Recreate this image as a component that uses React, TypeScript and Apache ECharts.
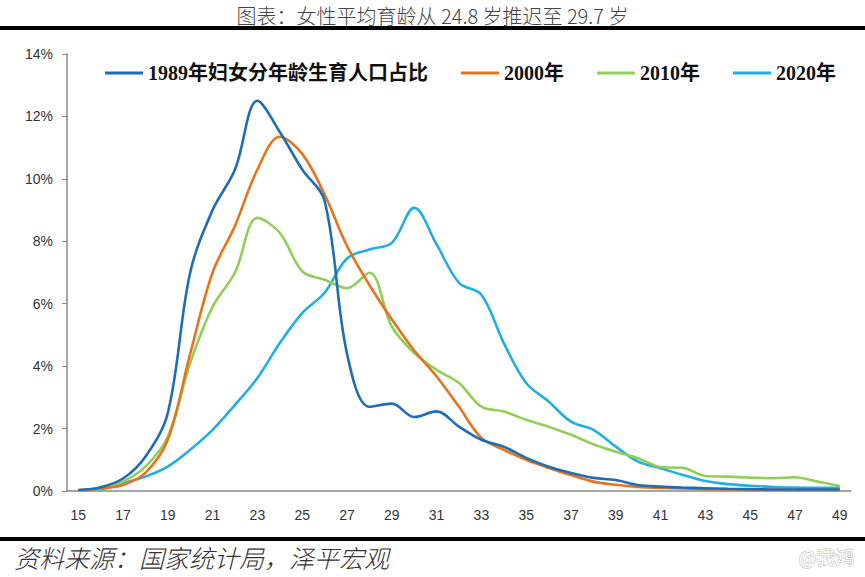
import React, { useEffect, useRef } from "react";
import * as echarts from "echarts";

const ages = Array.from({ length: 35 }, (_, i) => String(15 + i));

const names = ["1989年妇女分年龄生育人口占比", "2000年", "2010年", "2020年"];
const colors = ["#1f6db4", "#e8731c", "#92cf58", "#21afe2"];

// share of births by mother's age, %
const y1989 = [0.03, 0.12, 0.4, 1.1, 2.5, 7.0, 9.0, 10.3, 12.5, 11.5, 10.3, 9.3, 4.4, 2.7, 2.8, 2.37, 2.55, 2.06, 1.64, 1.42, 1.06, 0.78, 0.58, 0.42, 0.35, 0.19, 0.14, 0.11, 0.09, 0.07, 0.06, 0.05, 0.05, 0.05, 0.05];
const y2000 = [0.02, 0.08, 0.19, 0.58, 1.64, 4.4, 7.0, 8.5, 10.3, 11.35, 10.8, 9.5, 7.85, 6.6, 5.5, 4.5, 3.67, 2.7, 1.7, 1.32, 1.0, 0.74, 0.51, 0.3, 0.2, 0.13, 0.1, 0.08, 0.06, 0.05, 0.04, 0.04, 0.03, 0.03, 0.03];
const y2010 = [0.02, 0.08, 0.3, 0.78, 1.74, 4.1, 5.9, 7.0, 8.75, 8.27, 7.04, 6.77, 6.5, 6.99, 5.27, 4.42, 3.88, 3.46, 2.7, 2.55, 2.28, 2.06, 1.8, 1.5, 1.26, 1.05, 0.77, 0.74, 0.48, 0.46, 0.43, 0.41, 0.44, 0.3, 0.16];
const y2020 = [0.02, 0.06, 0.25, 0.46, 0.78, 1.32, 1.96, 2.76, 3.62, 4.74, 5.7, 6.35, 7.45, 7.74, 7.95, 9.07, 7.9, 6.67, 6.29, 4.74, 3.46, 2.87, 2.22, 1.96, 1.42, 0.94, 0.73, 0.51, 0.32, 0.22, 0.17, 0.13, 0.11, 0.1, 0.1];

const seriesValues = [y1989, y2000, y2010, y2020];

const titleText = "图表：女性平均育龄从 24.8 岁推迟至 29.7 岁";
const sourceText = "资料来源：国家统计局，泽平宏观";
const markText = "@我鸿";

const App: React.FC = () => {
    const chartRef = useRef<HTMLDivElement>(null);

    useEffect(() => {
        if (!chartRef.current) return;
        const chart = echarts.init(chartRef.current, null, { renderer: "svg" });
        chart.setOption({
            animation: false,
            backgroundColor: "#ffffff",
            title: {
                text: titleText,
                left: "center",
                top: 4.5,
                padding: 0,
                textStyle: {
                    fontFamily: "Noto Sans CJK SC",
                    fontSize: 20,
                    lineHeight: 22,
                    fontWeight: 300,
                    color: "#444"
                }
            },
            legend: {
                top: 58,
                left: 100,
                itemWidth: 38,
                itemHeight: 3,
                itemGap: 33,
                icon: "rect",
                data: names,
                textStyle: {
                    fontFamily: "Liberation Serif, Noto Sans CJK SC",
                    fontSize: 20,
                    fontWeight: "bold",
                    color: "#111"
                }
            },
            grid: { left: 67, right: 14, top: 54, bottom: 86 },
            xAxis: {
                type: "category",
                data: ages,
                boundaryGap: true,
                axisLine: { lineStyle: { color: "#888", width: 1.5 } },
                axisTick: { interval: 0, length: 5, lineStyle: { color: "#888" } },
                axisLabel: {
                    interval: 1,
                    margin: 17,
                    fontFamily: "Liberation Sans Narrow, Liberation Sans",
                    fontSize: 14,
                    color: "#333"
                }
            },
            yAxis: {
                type: "value",
                min: 0,
                max: 14,
                interval: 2,
                splitLine: { show: false },
                axisLine: { show: true, lineStyle: { color: "#888", width: 1.5 } },
                axisTick: { show: true, length: 5, lineStyle: { color: "#888" } },
                axisLabel: {
                    formatter: "{value}%",
                    margin: 14,
                    fontFamily: "Liberation Sans Narrow, Liberation Sans",
                    fontSize: 14,
                    color: "#333"
                }
            },
            series: seriesValues.map((vals, i) => ({
                name: names[i],
                type: "line",
                data: vals,
                smooth: 0.35,
                showSymbol: false,
                symbol: "none",
                itemStyle: { color: colors[i] },
                lineStyle: { color: colors[i], width: 2.6 },
                z: i === 0 ? 5 : 4 - i
            })),
            graphic: [
                { type: "rect", shape: { x: 0, y: 26, width: 865, height: 4 }, style: { fill: "#000" } },
                { type: "rect", shape: { x: 0, y: 537, width: 865, height: 4 }, style: { fill: "#000" } },
                {
                    type: "text",
                    left: 14,
                    top: 544,
                    style: {
                        text: sourceText,
                        fontFamily: "Noto Sans CJK SC",
                        fontSize: 25,
                        fontWeight: 300,
                        fontStyle: "italic",
                        fill: "#333"
                    }
                },
                {
                    type: "text",
                    right: 10,
                    top: 546,
                    style: {
                        text: markText,
                        fontFamily: "Noto Sans CJK SC",
                        fontSize: 19,
                        fill: "#ffffff",
                        stroke: "#bbb",
                        lineWidth: 1
                    }
                }
            ]
        });
        return () => {
            chart.dispose();
        };
    }, []);

    return (
        <div style={{ position: "fixed", left: 0, top: 0, width: 865, height: 577 }}>
            <div ref={chartRef} style={{ width: "100%", height: "100%" }} />
        </div>
    );
};

export default App;
